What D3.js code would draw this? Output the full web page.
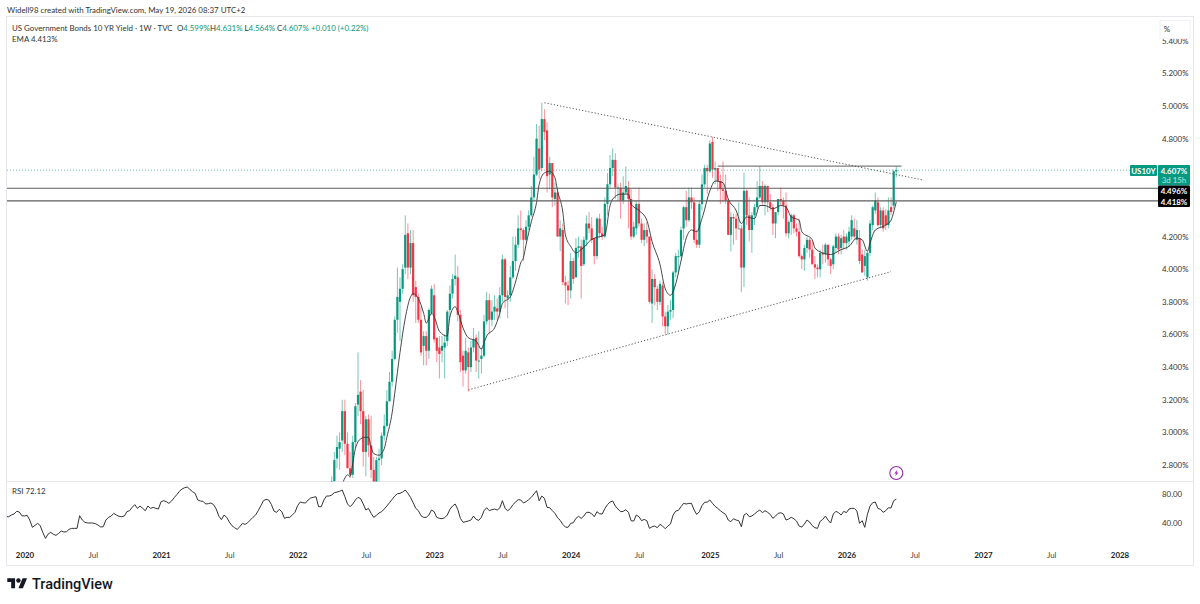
<!DOCTYPE html>
<html>
<head>
<meta charset="utf-8">
<title>US Government Bonds 10 YR Yield</title>
<script src="https://d3js.org/d3.v7.min.js"></script>
<style>
  html, body { margin: 0; padding: 0; background: #fff; }
  svg { display: block; }
  text { font-family: Lato, sans-serif; font-size: 7.9px; fill: #333; }
  .axis text { font-family: Lato, sans-serif; font-size: 7.9px; }
  .tag { fill: #fff; font-weight: 700; }
  .axis path, .axis line { display: none; }
</style>
</head>
<body>
<script>
// weekly candles, first bar is the week of 4 Apr 2022
var firstBar = "2022-04-04";
var opens = [
  2.39,2.70,2.84,2.90,2.95,3.13,2.93,2.78,2.74,2.94,
  3.17,3.25,3.13,2.88,3.08,2.92,2.77,2.65,2.83,2.84,
  2.98,3.04,3.19,3.31,3.45,3.69,3.80,3.88,4.01,4.22,
  4.01,4.16,3.89,3.83,3.69,3.53,3.59,3.50,3.73,3.84,
  3.58,3.52,3.50,3.52,3.56,3.75,3.85,3.94,3.95,3.72,
  3.47,3.38,3.49,3.40,3.52,3.58,3.44,3.45,3.47,3.68,
  3.81,3.69,3.74,3.76,3.74,3.84,4.06,3.82,3.84,3.95,
  4.05,4.15,4.25,4.24,4.18,4.26,4.33,4.44,4.58,4.74,
  4.62,4.92,4.85,4.58,4.65,4.43,4.47,4.20,4.24,3.92,
  3.90,3.87,4.05,3.95,4.13,4.14,4.03,4.18,4.28,4.25,
  4.19,4.08,4.31,4.22,4.20,4.40,4.52,4.62,4.67,4.50,
  4.50,4.42,4.47,4.50,4.43,4.20,4.25,4.40,4.28,4.18,
  4.24,4.20,3.79,3.94,3.88,3.80,3.90,3.71,3.65,3.74,
  3.75,3.98,4.08,4.08,4.25,4.38,4.30,4.44,4.41,4.18,
  4.15,4.40,4.52,4.62,4.60,4.78,4.61,4.62,4.54,4.49,
  4.48,4.42,4.21,4.32,4.31,4.25,4.25,4.01,4.48,4.33,
  4.24,4.33,4.38,4.44,4.51,4.41,4.51,4.41,4.38,4.28,
  4.35,4.43,4.42,4.39,4.22,4.29,4.33,4.25,4.23,4.08,
  4.06,4.13,4.18,4.12,4.03,4.01,4.00,4.10,4.09,4.15,
  4.06,4.03,4.13,4.20,4.13,4.20,4.16,4.17,4.20,4.25,
  4.18,4.19,4.09,4.02,3.95,4.10,4.27,4.36,4.41,4.27,
  4.36,4.33,4.27,4.38,4.39,4.599
];
var highs = [
  2.73,2.88,2.98,3.00,3.20,3.20,3.00,2.88,2.98,3.18,
  3.49,3.32,3.26,3.10,3.11,3.10,2.85,2.85,2.90,3.00,
  3.11,3.26,3.37,3.50,3.71,4.01,3.95,4.03,4.33,4.28,
  4.24,4.24,3.93,3.85,3.77,3.62,3.62,3.76,3.90,3.91,
  3.58,3.59,3.59,3.60,3.75,3.90,3.97,4.09,4.02,3.75,
  3.50,3.58,3.52,3.56,3.64,3.60,3.62,3.52,3.72,3.86,
  3.85,3.81,3.84,3.82,3.89,4.09,4.07,3.87,4.02,4.20,
  4.20,4.33,4.36,4.25,4.30,4.36,4.51,4.69,4.89,4.88,
  5.02,4.98,4.90,4.69,4.65,4.53,4.50,4.30,4.28,3.96,
  3.93,4.10,4.07,4.19,4.20,4.18,4.20,4.33,4.35,4.32,
  4.19,4.32,4.34,4.26,4.44,4.59,4.70,4.74,4.71,4.52,
  4.53,4.57,4.63,4.54,4.49,4.29,4.42,4.50,4.31,4.28,
  4.29,4.20,4.00,3.97,3.90,3.93,3.92,3.74,3.78,3.81,
  3.99,4.10,4.12,4.26,4.39,4.48,4.50,4.50,4.44,4.24,
  4.42,4.58,4.64,4.64,4.79,4.81,4.66,4.62,4.58,4.66,
  4.58,4.43,4.35,4.34,4.34,4.41,4.27,4.59,4.49,4.44,
  4.35,4.40,4.54,4.63,4.54,4.52,4.51,4.46,4.40,4.35,
  4.43,4.50,4.44,4.47,4.30,4.34,4.34,4.28,4.31,4.09,
  4.15,4.20,4.19,4.17,4.08,4.03,4.12,4.15,4.16,4.15,
  4.07,4.15,4.22,4.22,4.21,4.24,4.22,4.26,4.33,4.31,
  4.30,4.24,4.12,4.12,4.11,4.30,4.39,4.47,4.44,4.38,
  4.38,4.37,4.44,4.44,4.61,4.631
];
var lows = [
  2.37,2.69,2.78,2.77,2.88,2.86,2.78,2.72,2.72,2.90,
  3.10,3.05,2.79,2.73,2.85,2.72,2.65,2.52,2.68,2.80,
  2.95,3.03,3.19,3.28,3.44,3.61,3.56,3.85,3.97,3.94,
  3.97,3.80,3.67,3.67,3.47,3.41,3.41,3.45,3.72,3.55,
  3.43,3.33,3.43,3.33,3.53,3.70,3.82,3.90,3.68,3.37,
  3.28,3.36,3.25,3.37,3.49,3.37,3.33,3.36,3.46,3.66,
  3.60,3.65,3.69,3.69,3.70,3.80,3.76,3.70,3.80,3.94,
  3.99,4.13,4.18,4.05,4.17,4.24,4.32,4.42,4.57,4.55,
  4.60,4.79,4.47,4.49,4.38,4.39,4.20,4.11,3.90,3.79,
  3.78,3.82,3.91,3.95,4.07,3.82,4.02,4.14,4.22,4.16,
  4.03,4.06,4.19,4.18,4.19,4.33,4.50,4.57,4.43,4.42,
  4.31,4.40,4.46,4.25,4.18,4.19,4.21,4.26,4.16,4.14,
  4.16,3.79,3.67,3.78,3.75,3.78,3.65,3.60,3.60,3.69,
  3.70,3.95,3.97,4.07,4.18,4.26,4.29,4.37,4.16,4.13,
  4.13,4.36,4.50,4.46,4.59,4.56,4.52,4.48,4.40,4.41,
  4.40,4.21,4.11,4.15,4.18,4.25,3.86,3.89,4.27,4.17,
  4.10,4.27,4.36,4.43,4.39,4.33,4.35,4.36,4.21,4.19,
  4.33,4.39,4.31,4.20,4.19,4.21,4.22,4.20,4.07,4.00,
  3.99,4.10,4.07,4.03,3.94,3.95,3.95,4.03,4.04,4.02,
  3.97,4.00,4.10,4.09,4.09,4.12,4.12,4.14,4.18,4.18,
  4.15,4.03,3.98,3.96,3.93,4.08,4.24,4.34,4.26,4.25,
  4.23,4.24,4.25,4.33,4.37,4.564
];
var closes = [
  2.70,2.83,2.91,2.94,3.13,2.93,2.78,2.74,2.94,3.16,
  3.23,3.13,2.88,3.08,2.92,2.77,2.65,2.83,2.84,2.98,
  3.04,3.19,3.31,3.45,3.69,3.83,3.88,4.00,4.21,4.01,
  4.16,3.84,3.83,3.69,3.49,3.59,3.50,3.75,3.88,3.57,
  3.50,3.48,3.53,3.55,3.74,3.85,3.94,3.96,3.72,3.43,
  3.38,3.50,3.40,3.52,3.57,3.44,3.44,3.47,3.68,3.81,
  3.69,3.74,3.77,3.74,3.84,4.06,3.83,3.84,3.95,4.05,
  4.15,4.25,4.24,4.18,4.26,4.33,4.44,4.58,4.80,4.61,
  4.92,4.84,4.57,4.65,4.44,4.47,4.20,4.25,3.92,3.90,
  3.87,4.05,3.94,4.13,4.14,4.02,4.18,4.28,4.25,4.18,
  4.08,4.31,4.22,4.20,4.40,4.52,4.62,4.67,4.50,4.50,
  4.42,4.47,4.51,4.43,4.20,4.26,4.40,4.28,4.18,4.24,
  4.20,3.80,3.94,3.89,3.80,3.91,3.71,3.65,3.74,3.75,
  3.98,4.08,4.08,4.24,4.38,4.30,4.44,4.41,4.18,4.15,
  4.40,4.52,4.62,4.60,4.77,4.61,4.62,4.54,4.49,4.48,
  4.42,4.21,4.32,4.31,4.25,4.25,4.01,4.48,4.33,4.24,
  4.33,4.38,4.44,4.51,4.41,4.51,4.41,4.38,4.28,4.35,
  4.43,4.42,4.39,4.22,4.29,4.33,4.25,4.23,4.08,4.06,
  4.13,4.18,4.12,4.03,4.01,4.00,4.10,4.09,4.15,4.06,
  4.02,4.14,4.20,4.12,4.19,4.16,4.20,4.23,4.30,4.20,
  4.24,4.05,3.98,4.08,4.10,4.28,4.38,4.42,4.27,4.36,
  4.25,4.27,4.36,4.35,4.60,4.607
];

// EMA at these bars
var emaBars = [4,5,6,7,8,9,11,13,14,15,16,18,20,21,23,24,26,28,30,31,33,35,36,38,39,41,44,45,47,48,50,52,55,57,58,59,62,64,65,68,71,72,73,74,76,78,79,81,83,85,86,88,89,91,93,95,97,98,100,104,106,107,110,113,114,117,120,122,125,127,129,131,133,135,137,139,141,144,146,149,151,154,156,158,161,163,165,168,171,173,175,178,179,183,184,187,190,194,197,200,202,204,205,207,211,213,214,215];
var emaValues = [2.68,2.72,2.74,2.73,2.81,2.90,2.96,2.97,2.97,2.91,2.87,2.86,2.90,2.97,3.12,3.24,3.49,3.70,3.83,3.85,3.82,3.73,3.67,3.73,3.71,3.62,3.59,3.71,3.77,3.74,3.64,3.58,3.56,3.51,3.55,3.59,3.64,3.73,3.79,3.83,3.98,4.04,4.07,4.15,4.29,4.41,4.52,4.59,4.60,4.56,4.48,4.35,4.21,4.14,4.10,4.12,4.15,4.17,4.19,4.21,4.39,4.43,4.46,4.46,4.40,4.36,4.30,4.17,4.03,3.88,3.84,3.91,4.05,4.19,4.24,4.23,4.31,4.48,4.54,4.53,4.43,4.36,4.28,4.32,4.31,4.39,4.39,4.37,4.39,4.38,4.32,4.30,4.23,4.18,4.13,4.10,4.09,4.12,4.14,4.19,4.18,4.11,4.16,4.24,4.27,4.30,4.35,4.413];

// weekly RSI, first value is the week of 18 Nov 2019
var rsiFirst = "2019-11-18";
var rsiValues = [
  48,48,50.3,51.7,55.4,54.5,49.4,49,49.9,43.4,33.3,36,38.8,35.6,25.9,18.1,24.1,26.4,23.7,22.3,
  25,28.3,26.9,27.3,30.6,31.9,31.9,31.9,49.4,43.4,40.2,39.3,39.3,39.3,38.4,36.5,33.8,34.2,43.4,47.1,
  48.9,52.6,50.3,48.5,48,48.9,54.9,56.3,60.9,64.6,59.5,62.7,59.5,56.3,62.7,59.5,60.9,59.5,58.6,68.7,
  70.1,68.7,66.4,69.6,74.2,78.4,83,86.2,88,88.9,85.7,82.5,80.2,71,69.6,69.2,65.5,66,66.9,64.6,
  58.6,48.9,43.9,50.3,47.1,40.7,35.6,32.8,30.6,34.2,38.8,37.4,39.7,43.4,47.1,50.3,56.3,63.2,70.1,71.9,
  71,65,55.8,54,58.1,54.9,45.7,47.1,47.1,50.3,54,63.2,68.3,67.3,66.9,71,73.8,74.7,75.6,61.8,
  61.8,71,76.5,76.5,77.9,81.1,82,83,84.8,75.6,65.5,61.8,65.5,71,74.7,72.9,65.5,57.2,59.5,52.6,
  47.1,49.9,53.1,54.9,58.6,62.7,67.3,71.9,76.5,79.7,80.2,82,84.8,80.2,74.7,67.3,59.5,56.3,49.4,47.1,
  47.1,50.3,57.2,54.9,47.1,45.7,45.2,46.6,50.3,58.1,62.7,65.5,58.1,45.7,40.2,41.1,42,43.4,48.9,44.3,
  42.9,47.1,56.3,60.4,56.3,57.7,58.6,57.2,60,70.1,59.5,56.3,59,64.6,68.2,71.5,71,66.9,68.7,71.5,
  74.7,79.3,83.9,70,76.5,73.3,60.9,60.4,56.3,52.6,46.6,43,37.4,33.7,33.3,38.8,39.7,45.7,48.5,45.7,
  48.9,54,54,52.1,48,54.9,52.1,51.7,59,64.6,68.2,69.6,62.7,58.6,54.9,55.4,57.7,54,42.5,42,
  50.3,48,42.5,44.3,42.5,31.9,34.2,35.1,32.8,37.4,35.1,31.4,35.1,37.9,50.3,55.8,56.7,61.8,66.4,65.5,
  66.4,66.4,57.2,51.2,54.9,63.2,67.8,68.2,71,66.4,62.3,59.5,56.3,53.5,51.2,43.4,41.1,45.2,43.4,42.5,
  34.2,50.3,52.6,48,48.9,51.7,54.9,57.2,53.5,56.3,54,51.2,45.7,48.9,52.6,53.5,51.7,43.4,44.8,47.1,
  45.2,42,35.1,33.7,37.9,43.4,40.6,35.6,32.8,31.9,41.6,44.3,48.9,43.4,39.3,51.7,55.4,53.5,50.3,55.4,
  53.5,58.6,59.5,59.5,55.8,38.8,42.5,33.3,51.2,62.7,67.3,68.2,59.5,58.1,54,56.3,60.4,60,70.1,72.12
];

// 4.4 and 4.6 are hidden behind the tags
var priceTicks = [2.8,3.0,3.2,3.4,3.6,3.8,4.0,4.2,4.8,5.0,5.2,5.4];
var rsiTicks = [40, 80];
var timeTickDates = ["2020-01-06","2020-07-06","2021-01-04","2021-07-05","2022-01-03","2022-07-04","2023-01-02","2023-07-03","2024-01-01","2024-07-01","2025-01-06","2025-07-07","2026-01-05","2026-07-06","2027-01-04","2027-07-05","2028-01-03"];
var timeTickLabels = ["2020","Jul","2021","Jul","2022","Jul","2023","Jul","2024","Jul","2025","Jul","2026","Jul","2027","Jul","2028"];

var levels = [4.496, 4.418];
var lastPrice = 4.607;
var topLine = { from: "2025-01-27", to: "2026-06-01", value: 4.632 };
var trendLines = [
  { from: "2023-10-23", fromValue: 5.02, to: "2026-07-27", toValue: 4.547 },
  { from: "2023-04-03", fromValue: 3.26, to: "2026-05-04", toValue: 3.985 }
];

var green = "#089981", red = "#f23645";
var parse = d3.utcParse("%Y-%m-%d");

function weekAfter(start, n) {
  return d3.utcDay.offset(parse(start), 7 * n);
}

var svg = d3.select("body").append("svg").attr("width", 1200).attr("height", 604);

var x = d3.scaleUtc().domain([parse("2020-01-06"), parse("2028-01-03")]).range([24.5, 1119.5]);
var y = d3.scaleLinear().domain([2.8, 5.0]).range([465, 106]);
var yRsi = d3.scaleLinear().domain([40, 80]).range([522.5, 493.5]);

// frame and pane separators
var frameL = 7, frameR = 1193, frameT = 17, split = 481.5, frameB = 565;
svg.append("rect").attr("x", frameL - 0.5).attr("y", frameT - 0.5).attr("width", frameR - frameL + 1).attr("height", frameB - frameT + 1)
    .attr("fill", "none").attr("stroke", "#e6e8ee");
svg.append("line").attr("x1", frameL).attr("x2", frameR).attr("y1", split).attr("y2", split).attr("stroke", "#e6e8ee");

svg.append("defs").append("clipPath").attr("id", "price")
  .append("rect").attr("x", frameL).attr("y", frameT).attr("width", 1150).attr("height", split - frameT);

var pane = svg.append("g").attr("clip-path", "url(#price)");

// candles
var bars = closes.map(function(c, i) {
  return { date: weekAfter(firstBar, i), o: opens[i], h: highs[i], l: lows[i], c: c };
});
var candle = pane.selectAll("g.candle").data(bars).enter().append("g").attr("class", "candle");
candle.append("line")
    .attr("x1", function(d) { return x(d.date); })
    .attr("x2", function(d) { return x(d.date); })
    .attr("y1", function(d) { return y(d.h); })
    .attr("y2", function(d) { return y(d.l); })
    .attr("stroke", function(d) { return d.c >= d.o ? green : red; })
    .attr("stroke-opacity", 0.55)
    .attr("stroke-width", 1);
candle.append("rect")
    .attr("x", function(d) { return x(d.date) - 1.1; })
    .attr("width", 2.2)
    .attr("y", function(d) { return y(Math.max(d.o, d.c)); })
    .attr("height", function(d) { return Math.max(1, Math.abs(y(d.o) - y(d.c))); })
    .attr("fill", function(d) { return d.c >= d.o ? green : red; });

// EMA
var emaLine = d3.line().curve(d3.curveMonotoneX)
    .x(function(d) { return x(weekAfter(firstBar, d)); })
    .y(function(d, i) { return y(emaValues[i]); });
pane.append("path").attr("d", emaLine(emaBars))
    .attr("fill", "none").attr("stroke", "#333").attr("stroke-width", 0.9);

// drawn lines
svg.selectAll("line.level").data(levels).enter().append("line").attr("class", "level")
    .attr("x1", frameL).attr("x2", 1158)
    .attr("y1", function(d) { return y(d); })
    .attr("y2", function(d) { return y(d); })
    .attr("stroke", "#5d5d5d").attr("stroke-width", 1.2);
svg.append("line")
    .attr("x1", x(parse(topLine.from))).attr("x2", x(parse(topLine.to)))
    .attr("y1", y(topLine.value)).attr("y2", y(topLine.value))
    .attr("stroke", "#7d7d7d").attr("stroke-width", 1.2);
svg.selectAll("line.trend").data(trendLines).enter().append("line").attr("class", "trend")
    .attr("x1", function(d) { return x(parse(d.from)); })
    .attr("x2", function(d) { return x(parse(d.to)); })
    .attr("y1", function(d) { return y(d.fromValue); })
    .attr("y2", function(d) { return y(d.toValue); })
    .attr("stroke", "#555").attr("stroke-width", 1).attr("stroke-dasharray", "1.2 2");
svg.append("line")
    .attr("x1", frameL).attr("x2", 1130)
    .attr("y1", y(lastPrice)).attr("y2", y(lastPrice))
    .attr("stroke", green).attr("stroke-opacity", 0.6).attr("stroke-dasharray", "1 2");

// price axis
var priceAxis = svg.append("g").attr("class", "axis").attr("transform", "translate(1160,0)")
    .call(d3.axisRight(y).tickValues(priceTicks).tickSize(0).tickPadding(2)
      .tickFormat(function(d) { return d3.format(".3f")(d) + "%"; }));
priceAxis.selectAll("text").attr("fill", "#333");

// % button sits over the top tick
svg.append("rect").attr("x", 1160).attr("y", 20.5).attr("width", 30).attr("height", 18)
    .attr("fill", "#fff").attr("stroke", "#f0f2f6");
svg.append("text").attr("x", 1167).attr("y", 32).attr("text-anchor", "middle").text("%");

// tags on the price axis
svg.append("rect").attr("x", 1130).attr("y", 165).attr("width", 27).attr("height", 11).attr("fill", green).attr("rx", 1);
svg.append("text").attr("class", "tag").attr("x", 1143.5).attr("y", 173.5).attr("text-anchor", "middle").text("US10Y");
svg.append("rect").attr("x", 1158).attr("y", 165).attr("width", 32).attr("height", 20.5).attr("fill", green).attr("rx", 1);
svg.append("text").attr("class", "tag").attr("x", 1174).attr("y", 173.5).attr("text-anchor", "middle").text("4.607%");
svg.append("text").attr("class", "tag").attr("x", 1174).attr("y", 183).attr("text-anchor", "middle")
    .style("fill", "#b5e6dc").style("font-weight", 400).text("3d 15h");
svg.append("rect").attr("x", 1158).attr("y", 185.5).attr("width", 32).attr("height", 21.5).attr("fill", "#000").attr("rx", 1);
svg.append("text").attr("class", "tag").attr("x", 1174).attr("y", 194).attr("text-anchor", "middle").text("4.496%");
svg.append("text").attr("class", "tag").attr("x", 1174).attr("y", 205).attr("text-anchor", "middle").text("4.418%");

// lightning marker over the last bar
var bolt = svg.append("g").attr("transform", "translate(" + x(bars[bars.length - 1].date) + ",473)");
bolt.append("circle").attr("r", 6.5).attr("fill", "#fff").attr("stroke", "#9c27b0").attr("stroke-width", 1.1);
bolt.append("path").attr("d", "M1.2,-3.6 L-2,0.6 L-0.2,0.6 L-1.2,3.6 L2,-0.6 L0.2,-0.6 Z").attr("fill", "#9c27b0");

// RSI pane
var rsiLine = d3.line()
    .x(function(d, i) { return x(weekAfter(rsiFirst, i)); })
    .y(function(d) { return yRsi(d); });
svg.append("defs").append("clipPath").attr("id", "rsi")
  .append("rect").attr("x", frameL).attr("y", split).attr("width", 1150).attr("height", 60);
svg.append("path").attr("d", rsiLine(rsiValues)).attr("clip-path", "url(#rsi)")
    .attr("fill", "none").attr("stroke", "#333").attr("stroke-width", 1);
svg.append("g").attr("class", "axis").attr("transform", "translate(1160,0)")
    .call(d3.axisRight(yRsi).tickValues(rsiTicks).tickSize(0).tickPadding(2).tickFormat(d3.format(".2f")));
svg.append("text").attr("x", 12).attr("y", 494).text("RSI  72.12");

// time axis
var timeAxis = svg.append("g").attr("class", "axis").attr("transform", "translate(0,549.5)")
    .call(d3.axisBottom(x).tickValues(timeTickDates.map(parse)).tickSize(0).tickPadding(3)
      .tickFormat(function(d, i) { return timeTickLabels[i]; }));
timeAxis.selectAll("text")
    .style("font-weight", function(d, i) { return timeTickLabels[i] == "Jul" ? 400 : 700; })
    .style("fill", function(d, i) { return timeTickLabels[i] == "Jul" ? "#444" : "#222"; });

// header and legend
svg.append("text").attr("x", 7).attr("y", 12.5).text("Widell98 created with TradingView.com, May 19, 2026 08:37 UTC+2");
svg.append("text").attr("x", 12).attr("y", 30.5).text("US Government Bonds 10 YR Yield · 1W · TVC");
[["O", "4.599%", 177], ["H", "4.631%", 210], ["L", "4.564%", 244.5], ["C", "4.607%", 277]].forEach(function(p) {
  var item = svg.append("text").attr("x", p[2]).attr("y", 30.5);
  item.append("tspan").text(p[0]);
  item.append("tspan").style("fill", green).text(p[1]);
});
svg.append("text").attr("x", 311).attr("y", 30.5).style("fill", green).text("+0.010 (+0.22%)");
svg.append("text").attr("x", 12).attr("y", 41.5).text("EMA  4.413%");

// TradingView logo
var logo = svg.append("g").attr("transform", "translate(7.3,576) scale(0.556)");
logo.append("path").attr("d", "M14 22H7V11H0V4h14v18zM28 22h-8l7.5-18h8L28 22z").attr("fill", "#131722");
logo.append("circle").attr("cx", 20).attr("cy", 8).attr("r", 4).attr("fill", "#131722");
svg.append("text").attr("x", 32).attr("y", 589).style("font-family", "Roboto").style("font-size", "14.5px").style("font-weight", 500).style("fill", "#131722").text("TradingView");
</script>
</body>
</html>
